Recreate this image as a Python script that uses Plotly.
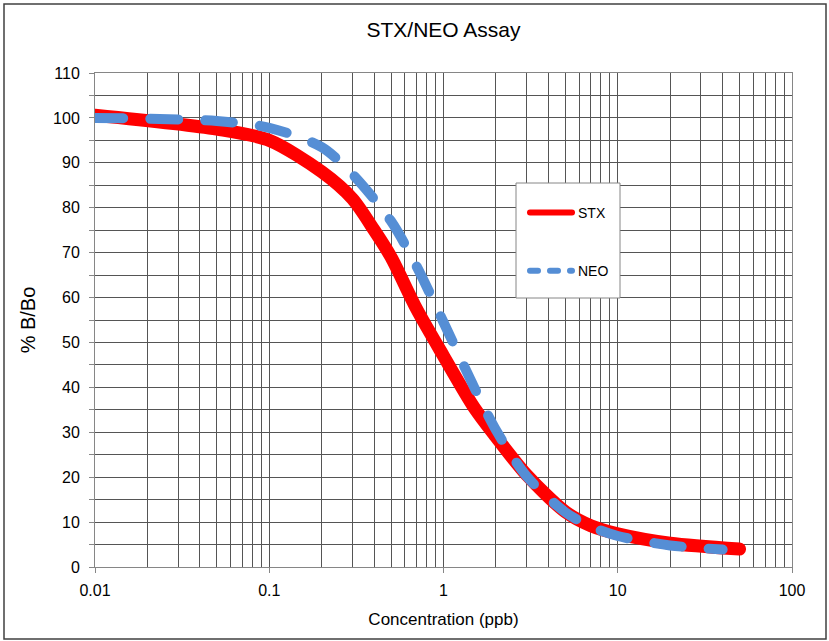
import plotly.graph_objects as go

# ---- data ----
stx_conc = [0.01, 0.05, 0.1, 0.2, 0.3, 0.4, 0.5, 0.7, 1, 1.5, 2, 3, 5, 7, 10, 20, 50]
stx_pct = [100.6, 97.5, 95, 88, 82, 75, 69, 57.5, 47, 35.5, 29, 20.5, 12.3, 9.2, 7.4, 5.3, 4.0]

neo_conc = [0.01, 0.05, 0.1, 0.2, 0.3, 0.5, 0.7, 1, 1.5, 2, 3, 5, 7, 10, 20, 40]
neo_pct = [100, 99.3, 97.8, 93.5, 87.5, 77, 67, 54.5, 40, 30.5, 20.2, 12.2, 9.0, 6.9, 4.8, 3.9]

x_ticks = [0.01, 0.1, 1, 10, 100]
x_tick_labels = ["0.01", "0.1", "1", "10", "100"]
y_ticks = [0, 10, 20, 30, 40, 50, 60, 70, 80, 90, 100, 110]

FONT = "Liberation Sans, Arial, sans-serif"
GRID = "#555555"
AXIS = "#868686"

fig = go.Figure()
fig.add_trace(go.Scatter(
    x=stx_conc, y=stx_pct, mode="lines", name="STX", legendgroup="stx",
    line=dict(color="#FF0000", width=13, shape="spline", smoothing=0.8)))
fig.add_trace(go.Scatter(
    x=neo_conc, y=neo_pct, mode="lines", name="NEO", legendgroup="neo",
    line=dict(color="#558ED5", width=10, dash="28px,27px", shape="spline", smoothing=0.8)))

W, H = 829, 641
ml, mr, mt, mb = 95, 37, 73, 74
pw, ph = W - ml - mr, H - mt - mb

def px_x(p):
    return (p - ml) / pw

def px_y(p):
    return (H - mb - p) / ph

# outer frame
fig.add_shape(type="rect", xref="paper", yref="paper",
              x0=px_x(4), x1=px_x(826), y0=px_y(639), y1=px_y(4),
              line=dict(color="#404040", width=1.5), fillcolor="rgba(0,0,0,0)", layer="above")
# legend box
fig.add_shape(type="rect", xref="paper", yref="paper",
              x0=px_x(516), x1=px_x(620), y0=px_y(298), y1=px_y(183),
              line=dict(color=AXIS, width=1), fillcolor="white", layer="above")

fig.update_layout(
    width=W, height=H,
    margin=dict(l=ml, r=mr, t=mt, b=mb),
    paper_bgcolor="white", plot_bgcolor="white",
    font=dict(family=FONT, color="#000000", size=16),
    title=dict(text="STX/NEO Assay", x=0.5, xref="paper", xanchor="center",
               y=1 - 30 / H, yanchor="middle", font=dict(size=21)),
    showlegend=True,
    legend=dict(x=px_x(522), y=px_y(197), xanchor="left", yanchor="top",
                bgcolor="rgba(0,0,0,0)", borderwidth=0, itemwidth=46,
                font=dict(size=14), traceorder="grouped", tracegroupgap=37),
    xaxis=dict(type="log", range=[-2, 2], tickvals=x_ticks, ticktext=x_tick_labels,
               showgrid=True, gridcolor=GRID, gridwidth=1,
               ticks="outside", ticklen=5, tickcolor=AXIS, ticklabelstandoff=4,
               showline=True, linecolor=AXIS, mirror=True, zeroline=False,
               minor=dict(dtick="D1", showgrid=True, gridcolor=GRID, gridwidth=1),
               title=dict(text="Concentration (ppb)", font=dict(size=17), standoff=14),
               tickfont=dict(size=16)),
    yaxis=dict(range=[0, 110], tickvals=y_ticks,
               showgrid=True, gridcolor=GRID, gridwidth=1,
               ticks="outside", ticklen=5, tickcolor=AXIS, ticklabelstandoff=6,
               showline=True, linecolor=AXIS, mirror=True, zeroline=False,
               minor=dict(dtick=5, showgrid=True, gridcolor=GRID, gridwidth=1,
                          ticks="outside", ticklen=5, tickcolor=AXIS),
               title=dict(text="% B/Bo", font=dict(size=20), standoff=12),
               tickfont=dict(size=16)),
)

post = """
var s=document.createElement('style');
s.innerHTML='body{margin:0;overflow:hidden} .scatterlayer .js-line{stroke-linecap:round} .legend .js-line{stroke-width:6px !important;stroke-linecap:round} .legend .js-line[style*=\"dasharray\"]{stroke-dasharray:8px,12px !important}';
document.head.appendChild(s);
var gd=document.getElementById('{plot_id}');
function fixLegend(){document.querySelectorAll('.legend .js-line').forEach(function(p){p.setAttribute('d','M8,0h42');});}
fixLegend(); setTimeout(fixLegend,0); setTimeout(fixLegend,50); setTimeout(fixLegend,200);
if(gd && gd.on){gd.on('plotly_afterplot', fixLegend);}
"""
fig.write_html("out.html", post_script=post, config={"displayModeBar": False})
